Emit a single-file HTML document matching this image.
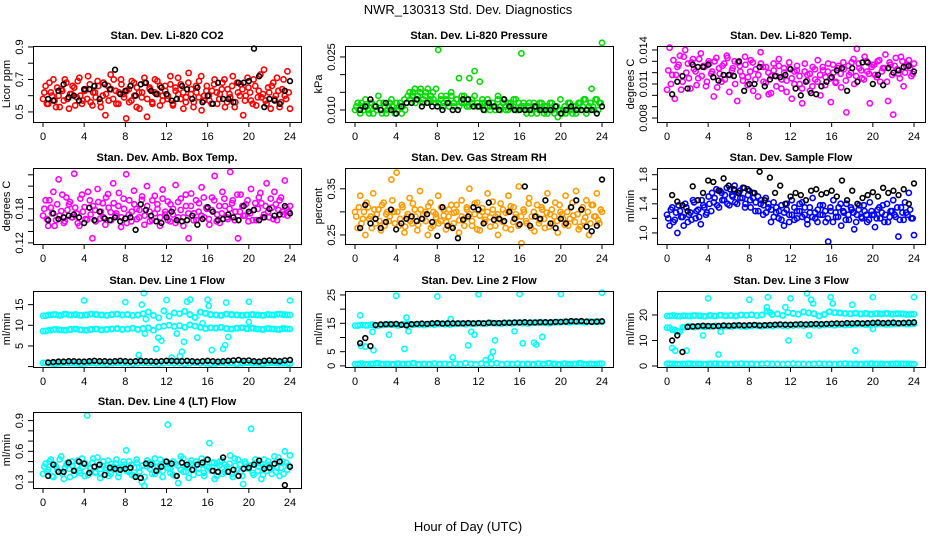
<!DOCTYPE html>
<html><head><meta charset="utf-8"><title>NWR_130313 Std. Dev. Diagnostics</title>
<style>
html,body{margin:0;padding:0;background:#fff;}
svg{display:block;font-family:"Liberation Sans",Arial,sans-serif;}
.tk{font-size:11px;fill:#000;}
.ttl{font-size:11px;font-weight:bold;fill:#000;}
</style></head><body>
<svg id="chart" width="936" height="540" viewBox="0 0 936 540" xmlns="http://www.w3.org/2000/svg">
<text x="468" y="14" text-anchor="middle" style="font-size:13px">NWR_130313 Std. Dev. Diagnostics</text>
<text x="468" y="531" text-anchor="middle" style="font-size:13px">Hour of Day (UTC)</text>
</svg>
<script>
// ---- data (estimated) ----
const xTicks=[0,4,8,12,16,20,24];
const co2Red=[0.58,0.66,0.55,0.62,0.70,0.53,0.60,0.64,0.57,0.68,0.52,0.61,0.65,0.59,0.71,0.55,0.63,0.58,0.67,0.54,0.62,0.69,0.56,0.60,0.48,0.66,0.73,0.58,0.63,0.55,0.70,0.61,0.46,0.64,0.57,0.68,0.53,0.62,0.59,0.71,0.47,0.65,0.56,0.62,0.69,0.54,0.60,0.66,0.58,0.72,0.55,0.63,0.61,0.67,0.52,0.59,0.74,0.64,0.56,0.62,0.69,0.51,0.60,0.66,0.57,0.63,0.70,0.55,0.61,0.68,0.53,0.64,0.59,0.72,0.56,0.62,0.67,0.48,0.60,0.65,0.57,0.70,0.54,0.63,0.59,0.76,0.55,0.62,0.66,0.58,0.71,0.53,0.64,0.60,0.75,0.52];
const co2RedB=[0.62,0.55,0.68,0.60,0.57,0.65,0.53,0.63,0.70,0.58,0.61,0.66,0.54,0.69,0.60,0.57,0.64,0.72,0.56,0.62,0.59,0.66,0.53,0.68,0.61,0.57,0.64,0.70,0.55,0.62,0.67,0.59,0.63,0.56,0.69,0.60,0.65,0.52,0.62,0.68,0.58,0.64,0.55,0.70,0.61,0.66,0.57,0.63,0.60,0.67,0.54,0.65,0.71,0.58,0.62,0.56,0.68,0.61,0.53,0.66,0.59,0.72,0.57,0.63,0.60,0.55,0.67,0.62,0.58,0.64,0.70,0.56,0.61,0.66,0.53,0.68,0.60,0.64,0.57,0.71,0.62,0.55,0.66,0.59,0.73,0.61,0.57,0.65,0.52,0.68,0.60,0.63,0.56,0.70,0.58,0.62];
const co2Black=[0.58,0.57,0.63,0.67,0.59,0.60,0.57,0.64,0.64,0.66,0.58,0.67,0.64,0.76,0.61,0.63,0.66,0.60,0.67,0.68,0.63,0.61,0.65,0.61,0.57,0.58,0.66,0.64,0.58,0.65,0.56,0.60,0.55,0.68,0.58,0.58,0.56,0.68,0.68,0.69,0.89,0.72,0.53,0.58,0.57,0.55,0.63,0.69];
const presGreen=[0.010,0.012,0.009,0.011,0.013,0.010,0.012,0.009,0.011,0.014,0.010,0.012,0.009,0.011,0.013,0.010,0.012,0.011,0.009,0.013,0.012,0.015,0.014,0.016,0.013,0.015,0.012,0.014,0.016,0.013,0.015,0.012,0.027,0.013,0.011,0.014,0.012,0.015,0.011,0.013,0.019,0.012,0.014,0.011,0.019,0.013,0.021,0.011,0.018,0.012,0.010,0.013,0.011,0.012,0.010,0.014,0.011,0.013,0.010,0.012,0.011,0.013,0.010,0.012,0.026,0.011,0.009,0.012,0.010,0.011,0.009,0.012,0.010,0.011,0.009,0.012,0.010,0.011,0.008,0.013,0.010,0.009,0.012,0.010,0.011,0.009,0.012,0.010,0.013,0.009,0.011,0.016,0.010,0.013,0.012,0.029];
const presGreenB=[0.011,0.010,0.012,0.010,0.011,0.009,0.012,0.011,0.010,0.012,0.009,0.011,0.010,0.012,0.011,0.009,0.010,0.012,0.011,0.010,0.014,0.013,0.015,0.012,0.014,0.016,0.013,0.015,0.012,0.014,0.013,0.016,0.012,0.014,0.012,0.013,0.011,0.014,0.012,0.013,0.011,0.014,0.012,0.013,0.011,0.012,0.014,0.012,0.011,0.013,0.012,0.011,0.010,0.012,0.011,0.013,0.010,0.012,0.011,0.010,0.012,0.011,0.013,0.010,0.011,0.012,0.010,0.011,0.009,0.012,0.011,0.010,0.012,0.009,0.011,0.010,0.012,0.009,0.011,0.010,0.009,0.011,0.010,0.012,0.009,0.011,0.010,0.012,0.011,0.013,0.010,0.012,0.011,0.013,0.010,0.012];
const presBlack=[0.010,0.011,0.013,0.011,0.010,0.012,0.010,0.009,0.011,0.012,0.012,0.013,0.011,0.012,0.011,0.011,0.010,0.012,0.010,0.010,0.013,0.013,0.011,0.011,0.010,0.012,0.011,0.010,0.013,0.011,0.010,0.010,0.010,0.010,0.011,0.010,0.010,0.010,0.011,0.009,0.010,0.011,0.010,0.010,0.010,0.010,0.009,0.011];
const tempMag=[0.0105,0.0142,0.0118,0.0097,0.0125,0.0135,0.0112,0.0140,0.0128,0.0106,0.0132,0.0121,0.0115,0.0137,0.0126,0.0108,0.0130,0.0119,0.0099,0.0133,0.0124,0.0112,0.0128,0.0135,0.0103,0.0122,0.0130,0.0095,0.0126,0.0117,0.0134,0.0109,0.0121,0.0129,0.0114,0.0099,0.0138,0.0125,0.0111,0.0120,0.0102,0.0128,0.0117,0.0132,0.0106,0.0124,0.0113,0.0129,0.0097,0.0121,0.0126,0.0110,0.0093,0.0128,0.0118,0.0104,0.0125,0.0114,0.0131,0.0100,0.0122,0.0116,0.0128,0.0094,0.0120,0.0112,0.0126,0.0107,0.0123,0.0085,0.0118,0.0129,0.0110,0.0141,0.0124,0.0115,0.0134,0.0121,0.0093,0.0127,0.0118,0.0130,0.0112,0.0124,0.0136,0.0095,0.0127,0.0083,0.0133,0.0119,0.0134,0.0108,0.0126,0.0131,0.0117,0.0128];
const tempMagB=[0.0122,0.0110,0.0131,0.0118,0.0127,0.0105,0.0134,0.0120,0.0115,0.0129,0.0123,0.0109,0.0132,0.0117,0.0125,0.0112,0.0128,0.0121,0.0130,0.0107,0.0119,0.0126,0.0114,0.0133,0.0118,0.0124,0.0110,0.0129,0.0121,0.0113,0.0127,0.0116,0.0131,0.0104,0.0123,0.0118,0.0128,0.0112,0.0125,0.0101,0.0117,0.0122,0.0108,0.0126,0.0114,0.0120,0.0103,0.0124,0.0115,0.0110,0.0122,0.0117,0.0106,0.0121,0.0113,0.0119,0.0108,0.0123,0.0112,0.0118,0.0125,0.0109,0.0121,0.0115,0.0127,0.0111,0.0124,0.0119,0.0129,0.0113,0.0126,0.0120,0.0132,0.0117,0.0128,0.0122,0.0114,0.0130,0.0119,0.0125,0.0127,0.0116,0.0131,0.0121,0.0124,0.0112,0.0129,0.0118,0.0126,0.0123,0.0115,0.0130,0.0120,0.0127,0.0124,0.0119];
const tempBlack=[0.0101,0.0112,0.0117,0.0106,0.0127,0.0125,0.0125,0.0127,0.0116,0.0113,0.0118,0.0118,0.0117,0.0130,0.0104,0.0110,0.0110,0.0125,0.0108,0.0114,0.0117,0.0116,0.0118,0.0123,0.0106,0.0100,0.0112,0.0102,0.0101,0.0108,0.0112,0.0116,0.0122,0.0124,0.0104,0.0124,0.0112,0.0129,0.0129,0.0110,0.0118,0.0109,0.0124,0.0120,0.0122,0.0125,0.0126,0.0121];
const ambMag=[0.168,0.195,0.150,0.182,0.210,0.160,0.232,0.176,0.155,0.200,0.188,0.165,0.242,0.172,0.150,0.205,0.183,0.161,0.195,0.128,0.178,0.215,0.163,0.190,0.152,0.206,0.174,0.225,0.168,0.185,0.148,0.198,0.241,0.170,0.158,0.212,0.180,0.165,0.196,0.152,0.220,0.175,0.160,0.203,0.188,0.150,0.214,0.170,0.193,0.158,0.180,0.222,0.165,0.198,0.150,0.185,0.128,0.207,0.172,0.160,0.190,0.218,0.165,0.180,0.152,0.200,0.238,0.170,0.155,0.210,0.185,0.162,0.245,0.195,0.175,0.128,0.205,0.168,0.188,0.158,0.215,0.178,0.160,0.200,0.190,0.170,0.225,0.165,0.182,0.210,0.160,0.195,0.175,0.230,0.168,0.185];
const ambMagB=[0.180,0.162,0.195,0.172,0.150,0.188,0.168,0.205,0.158,0.178,0.192,0.165,0.182,0.155,0.198,0.175,0.162,0.210,0.170,0.185,0.158,0.192,0.175,0.165,0.200,0.182,0.160,0.190,0.172,0.208,0.165,0.180,0.155,0.195,0.175,0.188,0.162,0.178,0.202,0.168,0.185,0.158,0.195,0.172,0.180,0.165,0.198,0.175,0.160,0.188,0.170,0.155,0.192,0.178,0.165,0.205,0.172,0.185,0.160,0.195,0.175,0.168,0.200,0.182,0.162,0.178,0.195,0.158,0.185,0.172,0.198,0.165,0.180,0.190,0.160,0.205,0.175,0.185,0.168,0.195,0.172,0.160,0.190,0.180,0.208,0.165,0.185,0.175,0.198,0.162,0.188,0.178,0.200,0.170,0.182,0.175];
const ambBlack=[0.160,0.172,0.162,0.165,0.168,0.170,0.165,0.155,0.182,0.160,0.175,0.163,0.160,0.165,0.158,0.163,0.165,0.143,0.188,0.178,0.168,0.158,0.155,0.165,0.175,0.160,0.158,0.160,0.168,0.152,0.162,0.183,0.175,0.160,0.162,0.170,0.165,0.160,0.185,0.175,0.178,0.160,0.165,0.180,0.168,0.170,0.185,0.172];
const rhOrange=[0.300,0.265,0.335,0.285,0.250,0.310,0.290,0.340,0.275,0.305,0.260,0.320,0.295,0.280,0.370,0.300,0.385,0.270,0.315,0.255,0.290,0.330,0.275,0.305,0.260,0.345,0.285,0.300,0.250,0.320,0.270,0.295,0.335,0.280,0.305,0.262,0.290,0.315,0.275,0.300,0.255,0.325,0.285,0.310,0.350,0.270,0.295,0.320,0.260,0.300,0.283,0.340,0.268,0.305,0.290,0.250,0.318,0.278,0.298,0.335,0.262,0.310,0.288,0.355,0.232,0.300,0.275,0.330,0.290,0.258,0.315,0.282,0.305,0.265,0.340,0.295,0.275,0.320,0.255,0.300,0.285,0.335,0.270,0.310,0.292,0.345,0.262,0.305,0.280,0.325,0.250,0.315,0.290,0.340,0.275,0.300];
const rhOrangeB=[0.290,0.310,0.275,0.300,0.320,0.285,0.265,0.305,0.295,0.280,0.315,0.270,0.300,0.290,0.325,0.275,0.300,0.285,0.310,0.268,0.295,0.280,0.318,0.290,0.272,0.305,0.295,0.280,0.312,0.265,0.300,0.288,0.275,0.310,0.292,0.278,0.305,0.268,0.298,0.315,0.282,0.290,0.270,0.305,0.295,0.280,0.318,0.262,0.292,0.308,0.278,0.300,0.288,0.322,0.270,0.295,0.283,0.305,0.265,0.300,0.312,0.278,0.295,0.270,0.290,0.305,0.280,0.318,0.265,0.300,0.290,0.275,0.310,0.285,0.298,0.268,0.305,0.290,0.280,0.315,0.295,0.272,0.300,0.285,0.320,0.278,0.295,0.268,0.310,0.288,0.300,0.275,0.315,0.290,0.282,0.305];
const rhBlack=[0.265,0.315,0.275,0.285,0.265,0.278,0.305,0.262,0.275,0.285,0.290,0.280,0.285,0.295,0.278,0.248,0.310,0.270,0.265,0.243,0.283,0.290,0.310,0.305,0.275,0.320,0.283,0.285,0.280,0.300,0.285,0.273,0.355,0.270,0.290,0.285,0.325,0.275,0.265,0.285,0.275,0.310,0.325,0.305,0.268,0.258,0.270,0.370];
const flowBlue=[1.25,1.10,1.35,1.18,1.00,1.30,1.22,1.40,1.15,1.28,1.45,1.20,1.32,1.12,1.38,1.25,1.50,1.30,1.42,1.60,1.35,1.55,1.45,1.62,1.38,1.52,1.65,1.40,1.58,1.48,1.35,1.60,1.45,1.55,1.30,1.50,1.40,1.25,1.48,1.35,1.15,1.42,1.28,1.20,1.38,1.10,1.32,1.25,1.45,1.18,1.30,1.40,1.22,1.35,1.12,1.28,1.48,1.20,1.32,1.25,1.38,1.15,0.88,1.30,1.45,1.22,1.35,1.10,1.28,1.40,1.18,1.32,1.05,1.25,1.38,1.20,1.30,1.15,1.42,1.25,1.08,1.32,1.20,1.38,1.25,1.15,1.30,1.45,1.22,0.95,1.35,1.18,1.28,1.55,1.20,0.97];
const flowBlueB=[1.20,1.32,1.15,1.28,1.38,1.22,1.10,1.35,1.25,1.18,1.42,1.30,1.22,1.45,1.35,1.28,1.40,1.55,1.48,1.38,1.58,1.45,1.52,1.40,1.60,1.50,1.42,1.55,1.48,1.62,1.40,1.52,1.35,1.48,1.42,1.30,1.45,1.38,1.28,1.40,1.32,1.22,1.35,1.30,1.18,1.28,1.40,1.15,1.25,1.35,1.20,1.30,1.42,1.25,1.18,1.35,1.22,1.28,1.15,1.38,1.25,1.30,1.20,1.35,1.15,1.28,1.22,1.40,1.30,1.18,1.25,1.35,1.28,1.15,1.32,1.22,1.38,1.25,1.18,1.30,1.25,1.20,1.35,1.28,1.15,1.40,1.22,1.30,1.25,1.35,1.18,1.28,1.42,1.25,1.32,1.20];
const flowBlack=[1.52,1.43,1.38,1.30,1.64,1.45,1.55,1.72,1.70,1.58,1.75,1.65,1.60,1.55,1.62,1.58,1.55,1.84,1.45,1.76,1.55,1.65,1.40,1.50,1.55,1.52,1.45,1.58,1.60,1.53,1.55,1.58,1.50,1.72,1.45,1.58,1.40,1.48,1.52,1.56,1.50,1.62,1.55,1.58,1.52,1.60,1.40,1.68];
const l1Upper=[12.3,12.5,12.6,12.4,12.7,12.5,12.6,12.4,12.5,12.7,12.6,12.5,12.4,12.6,12.7,12.5,12.6,12.4,12.5,12.8,13.2,12.4,11.8,13.5,12.2,13.0,12.8,13.4,12.6,11.9,13.2,12.9,12.6,12.5,12.4,12.7,12.6,12.5,12.4,12.5,12.6,12.5,12.4,12.6,12.5,12.7,12.6,12.5];
const l1Mid=[8.6,8.8,9.0,8.9,8.8,9.0,9.1,8.9,8.8,9.0,9.1,8.9,9.0,9.1,9.2,9.0,9.1,9.3,9.0,9.2,9.4,8.8,9.6,9.8,10.0,9.7,9.9,9.5,10.1,9.8,9.5,9.2,9.4,9.3,9.5,9.2,9.1,9.3,9.4,9.2,9.3,9.1,9.0,9.2,9.1,9.0,9.2,9.1];
const l1Low=[0.9,0.8,0.7,0.8,0.9,0.8,0.8,0.7,0.8,0.9,0.8,0.8,0.7,0.8,0.9,0.8,0.8,0.7,0.8,0.9,0.8,0.8,0.7,0.8,0.9,0.8,0.8,0.7,0.8,0.9,0.8,0.8,0.7,0.8,0.9,0.8,0.8,0.7,0.8,0.9,0.8,0.8,0.7,0.8,0.9,0.8,0.8,0.7];
const l1OutHours=[4,8,9.3,9.6,9.8,9.9,10,11,11.2,11.5,12,12.5,13,13.3,13.5,13.7,14,14.3,15,15.5,16,16.1,16.4,17.5,17.7,18,17.8,20,20,24];
const l1OutVals=[16,15.6,2.8,15,17.8,8,11.5,4.3,7,6.3,16.1,2.2,8,2.5,3.6,6,15.7,16.2,7,10.5,16.2,14.7,4,4.3,5.2,7.2,15.5,15.7,10.8,16];
const l1Black=[1.0,1.1,1.2,1.2,1.3,1.3,1.2,1.2,1.3,1.4,1.3,1.3,1.2,1.3,1.4,1.3,1.2,1.3,1.4,1.3,1.3,1.2,1.3,1.4,1.4,1.3,1.3,1.4,1.3,1.2,1.3,1.4,1.3,1.2,1.3,1.4,1.5,1.6,1.4,1.5,1.3,1.2,1.4,1.5,1.4,1.3,1.5,1.6];
const l2Band=[14.2,14.4,14.3,14.5,14.2,14.4,14.6,14.5,14.3,14.6,14.7,14.5,14.6,14.4,14.7,14.6,14.8,14.7,14.6,14.8,14.9,14.7,14.9,14.8,15.0,14.9,15.1,15.0,14.9,15.1,15.0,15.2,15.1,15.0,15.2,15.3,15.2,15.1,15.3,15.4,15.5,15.4,15.6,15.5,15.4,15.6,15.5,15.6];
const l2Low=[0.6,0.8,0.5,0.7,0.9,0.6,0.7,0.5,0.8,0.6,0.7,0.9,0.5,0.7,0.6,0.8,0.6,0.7,0.5,0.8,0.6,0.9,0.7,0.5,0.8,0.6,0.7,0.9,0.5,0.7,0.6,0.8,0.6,0.7,0.5,0.8,0.6,0.9,0.7,0.5,0.8,0.6,0.7,0.9,0.5,0.7,0.6,0.8];
const l2OutHours=[0.5,0.6,1,1.7,1.8,3.3,4,4.8,5,5.2,8,9.3,9.5,11,11.3,11.6,12,12.7,13.2,13.4,13.6,15.5,16,16.3,17.4,17.6,18.2,20,24];
const l2OutVals=[17.8,7,6.8,12,5.5,11,24.7,6,17,12.2,24.5,16.5,3,7.2,12,11,25.2,2,3,5,9,12.2,25.3,8,8.2,7.5,10.2,25.3,25.8];
const l2Black=[8.0,9.8,7.0,14.4,14.6,14.7,14.7,14.8,14.5,14.3,14.7,14.8,14.9,14.8,15.0,15.1,14.9,15.0,15.0,15.0,15.0,15.1,15.0,15.1,15.0,15.2,15.1,15.1,15.2,15.2,15.3,15.3,15.4,15.3,15.3,15.4,15.4,15.4,15.5,15.5,15.6,15.8,15.7,15.8,15.6,15.5,15.6,15.7];
const l3Upper=[19.6,19.8,19.5,19.7,19.6,19.8,19.7,19.5,19.8,19.6,19.9,19.7,19.8,19.6,20.0,19.9,20.1,19.8,20.0,21.5,20.2,20.4,19.8,21.0,20.6,20.3,21.2,20.8,20.5,19.6,20.2,21.3,20.9,20.8,20.6,20.5,20.7,20.4,20.6,20.3,20.5,20.4,20.6,20.3,20.5,20.4,20.2,20.3];
const l3Mid=[15.0,14.2,13.5,15.2,15.5,15.3,15.6,15.4,15.5,15.7,15.4,15.6,15.5,15.8,15.6,15.5,15.7,15.9,15.6,15.8,15.7,16.0,15.8,15.7,15.9,16.0,15.8,16.1,16.0,15.9,16.1,16.2,16.0,16.3,16.1,16.2,16.3,16.4,16.2,16.3,16.4,16.5,16.3,16.4,16.5,16.6,16.4,16.5];
const l3Low=[0.9,0.8,0.7,0.8,0.9,0.8,0.8,0.7,0.8,0.9,0.8,0.8,0.7,0.8,0.9,0.8,0.8,0.7,0.8,0.9,0.8,0.8,0.7,0.8,0.9,0.8,0.8,0.7,0.8,0.9,0.8,0.8,0.7,0.8,0.9,0.8,0.8,0.7,0.8,0.9,0.8,0.8,0.7,0.8,0.9,0.8,0.8,0.7];
const l3OutHours=[0.5,0.8,1,1.9,3.5,4,5,5.2,8,9.8,9.7,10,11.5,11.8,12,13.6,13.8,14,14.2,15.9,16.1,18,18.3,20,20,24];
const l3OutVals=[7,6,13.5,6,12,26.5,4.5,13.5,26,27,23,21,23,10,26.5,28.5,12,26,24.5,27,24.5,24,6,27,14.5,27];
const l3Black=[10.0,12.0,5.5,15.3,15.5,15.6,15.8,15.7,15.6,15.7,15.9,15.8,15.9,16.0,15.9,16.0,16.1,15.9,16.0,16.1,16.2,16.3,16.2,16.2,16.3,16.4,16.3,16.4,16.5,16.4,16.5,16.6,16.7,16.6,16.8,16.7,16.8,16.7,16.8,16.9,17.0,16.8,16.9,17.0,16.8,16.9,17.0,17.1];
const l4Cyan=[0.38,0.48,0.42,0.52,0.35,0.45,0.40,0.55,0.33,0.47,0.43,0.50,0.37,0.46,0.41,0.53,0.36,0.95,0.44,0.49,0.39,0.54,0.34,0.46,0.42,0.51,0.38,0.45,0.48,0.35,0.43,0.50,0.61,0.40,0.47,0.36,0.52,0.44,0.30,0.26,0.45,0.49,0.38,0.53,0.41,0.46,0.35,0.50,0.86,0.43,0.37,0.48,0.29,0.55,0.40,0.46,0.34,0.51,0.42,0.47,0.39,0.53,0.36,0.45,0.68,0.49,0.33,0.44,0.50,0.38,0.47,0.41,0.56,0.35,0.46,0.52,0.40,0.28,0.48,0.43,0.82,0.37,0.49,0.45,0.33,0.52,0.41,0.47,0.38,0.55,0.44,0.36,0.50,0.60,0.42,0.56];
const l4CyanB=[0.45,0.40,0.50,0.36,0.47,0.42,0.52,0.38,0.44,0.49,0.35,0.46,0.41,0.51,0.39,0.45,0.48,0.37,0.43,0.53,0.40,0.46,0.38,0.50,0.44,0.36,0.48,0.42,0.52,0.39,0.45,0.47,0.41,0.50,0.37,0.44,0.49,0.40,0.46,0.35,0.51,0.43,0.48,0.38,0.45,0.52,0.41,0.47,0.44,0.39,0.50,0.36,0.46,0.42,0.53,0.40,0.45,0.48,0.37,0.50,0.43,0.47,0.39,0.52,0.44,0.41,0.49,0.36,0.46,0.51,0.40,0.45,0.48,0.38,0.53,0.42,0.47,0.36,0.50,0.44,0.46,0.39,0.52,0.41,0.48,0.37,0.45,0.50,0.43,0.47,0.40,0.54,0.44,0.38,0.49,0.46];
const l4Black=[0.36,0.47,0.40,0.40,0.49,0.41,0.50,0.48,0.39,0.45,0.47,0.37,0.44,0.43,0.42,0.43,0.44,0.35,0.34,0.48,0.47,0.41,0.45,0.50,0.48,0.36,0.49,0.47,0.42,0.47,0.49,0.52,0.41,0.40,0.54,0.40,0.42,0.36,0.43,0.44,0.47,0.51,0.43,0.44,0.48,0.50,0.27,0.45];

const NS='http://www.w3.org/2000/svg';
const svg=document.getElementById('chart');
function mk(tag,attrs,parent){const e=document.createElementNS(NS,tag);for(const k in attrs)e.setAttribute(k,attrs[k]);(parent||svg).appendChild(e);return e;}

const panels=[
 {id:'co2',col:0,row:0,title:'Stan. Dev. Li-820 CO2',ylab:'Licor ppm',yr:[0.438,0.906],ticks:[0.5,0.6,0.7,0.8,0.9],labels:['0.5','','0.7','','0.9']},
 {id:'pressure',col:1,row:0,title:'Stan. Dev. Li-820 Pressure',ylab:'kPa',yr:[0.0066,0.0281],ticks:[0.010,0.015,0.020,0.025],labels:['0.010','','','0.025']},
 {id:'temp',col:2,row:0,title:'Stan. Dev. Li-820 Temp.',ylab:'degrees C',yr:[0.00765,0.01435],ticks:[0.008,0.009,0.010,0.011,0.012,0.013,0.014],labels:['0.008','','','0.011','','','0.014']},
 {id:'ambtemp',col:0,row:1,title:'Stan. Dev. Amb. Box Temp.',ylab:'degrees C',yr:[0.118,0.252],ticks:[0.12,0.14,0.16,0.18,0.20,0.22,0.24],labels:['0.12','','','0.18','','','']},
 {id:'rh',col:1,row:1,title:'Stan. Dev. Gas Stream RH',ylab:'percent',yr:[0.2304,0.395],ticks:[0.25,0.30,0.35],labels:['0.25','','0.35']},
 {id:'sampleflow',col:2,row:1,title:'Stan. Dev. Sample Flow',ylab:'ml/min',yr:[0.848,1.892],ticks:[1.0,1.2,1.4,1.6,1.8],labels:['1.0','','1.4','','1.8']},
 {id:'line1',col:0,row:2,title:'Stan. Dev. Line 1 Flow',ylab:'ml/min',yr:[-0.1,18.3],ticks:[0,5,10,15],labels:['','5','10','15']},
 {id:'line2',col:1,row:2,title:'Stan. Dev. Line 2 Flow',ylab:'ml/min',yr:[-0.4,26.4],ticks:[0,5,10,15,20,25],labels:['0','5','','15','','25']},
 {id:'line3',col:2,row:2,title:'Stan. Dev. Line 3 Flow',ylab:'ml/min',yr:[-0.4,29.4],ticks:[0,10,20],labels:['0','10','20']},
 {id:'line4',col:0,row:3,title:'Stan. Dev. Line 4 (LT) Flow',ylab:'ml/min',yr:[0.242,0.984],ticks:[0.3,0.4,0.5,0.6,0.7,0.8,0.9],labels:['0.3','','','0.6','','','0.9']}
];
const colLeft=[33,345,657], rowTop=[46,168,291,412], BW=268, BH=76;

function axes(p){
  const L=colLeft[p.col],T=rowTop[p.row];
  const g=mk('g',{});
  
  
  p.g=g;
  p.x=h=>L+10+h/24*247;
  p.y=v=>T+BH-(v-p.yr[0])/(p.yr[1]-p.yr[0])*BH;
  const t=mk('text',{x:L+BW/2,y:T-7,'text-anchor':'middle',class:'ttl'},g);t.textContent=p.title;
  
  
  xTicks.forEach(h=>{
    mk('line',{x1:p.x(h),x2:p.x(h),y1:T+BH,y2:T+BH+5,stroke:'#000','stroke-width':1},g);
    const l=mk('text',{x:p.x(h),y:T+BH+18,'text-anchor':'middle',class:'tk'},g);l.textContent=h;
    
    
  });
  p.ticks.forEach((v,i)=>{
    const yy=p.y(v);
    mk('line',{x1:L-5,x2:L,y1:yy,y2:yy,stroke:'#000','stroke-width':1},g);
    if(p.labels[i]){
      const l=mk('text',{x:0,y:0,'text-anchor':'middle',class:'tk',transform:`translate(${L-10},${yy}) rotate(-90)`},g);l.textContent=p.labels[i];
      
      
    }
  });
  const yl=mk('text',{x:0,y:0,'text-anchor':'middle',class:'tk',transform:`translate(${L-23},${T+BH/2}) rotate(-90)`},g);yl.textContent=p.ylab;
  
  
}
function box(p){
  const L=colLeft[p.col],T=rowTop[p.row];
  const r=mk('rect',{x:L+0.5,y:T+0.5,width:BW,height:BH,fill:'none',stroke:'#000','stroke-width':1},p.g);
  
  
}
// mode: 'black' = half-hour averages, 'a' = samples on grid, 'b' = samples offset half step
function series(p,vals,color,name,hours,mode){
  const n=vals.length;
  vals.forEach((v,i)=>{
    let h;
    if(hours) h=hours[i];
    else if(color==='#000') h=(i+1)*24/n;
    else if(mode==='b') h=(i+0.5)*24/n;
    else h=i*24/(n-1);
    const c=mk('circle',{cx:p.x(h),cy:p.y(v),r:color==='#000'?2.4:2.6,fill:'none',stroke:color,'stroke-width':1.6},p.g);
    
    
  });
}
panels.forEach(axes);
const P={};panels.forEach(p=>P[p.id]=p);
const CY='#00ffff';
series(P.co2,co2Red,'#ff0000','co2');series(P.co2,co2RedB,'#ff0000','co2',null,'b');series(P.co2,co2Black,'#000','co2-hourly');
series(P.pressure,presGreen,'#00dd00','pressure');series(P.pressure,presGreenB,'#00dd00','pressure',null,'b');series(P.pressure,presBlack,'#000','pressure-hourly');
series(P.temp,tempMag,'#ff00ff','temp');series(P.temp,tempMagB,'#ff00ff','temp',null,'b');series(P.temp,tempBlack,'#000','temp-hourly');
series(P.ambtemp,ambMag,'#ff00ff','ambtemp');series(P.ambtemp,ambMagB,'#ff00ff','ambtemp',null,'b');series(P.ambtemp,ambBlack,'#000','ambtemp-hourly');
series(P.rh,rhOrange,'#ff9a00','rh');series(P.rh,rhOrangeB,'#ff9a00','rh',null,'b');series(P.rh,rhBlack,'#000','rh-hourly');
series(P.sampleflow,flowBlue,'#0000ff','sampleflow');series(P.sampleflow,flowBlueB,'#0000ff','sampleflow',null,'b');series(P.sampleflow,flowBlack,'#000','sampleflow-hourly');
series(P.line1,l1Upper,CY,'line1-upper');series(P.line1,l1Upper,CY,'line1-upper',null,'b');
series(P.line1,l1Mid,CY,'line1-mid');series(P.line1,l1Mid,CY,'line1-mid',null,'b');
series(P.line1,l1Low,CY,'line1-low');series(P.line1,l1Low,CY,'line1-low',null,'b');
series(P.line1,l1OutVals,CY,'line1-outlier',l1OutHours);series(P.line1,l1Black,'#000','line1-hourly');
series(P.line2,l2Band,CY,'line2-band');series(P.line2,l2Band,CY,'line2-band',null,'b');
series(P.line2,l2Low,CY,'line2-low');series(P.line2,l2Low,CY,'line2-low',null,'b');
series(P.line2,l2OutVals,CY,'line2-outlier',l2OutHours);series(P.line2,l2Black,'#000','line2-hourly');
series(P.line3,l3Upper,CY,'line3-upper');series(P.line3,l3Upper,CY,'line3-upper',null,'b');
series(P.line3,l3Mid,CY,'line3-mid');series(P.line3,l3Mid,CY,'line3-mid',null,'b');
series(P.line3,l3Low,CY,'line3-low');series(P.line3,l3Low,CY,'line3-low',null,'b');
series(P.line3,l3OutVals,CY,'line3-outlier',l3OutHours);series(P.line3,l3Black,'#000','line3-hourly');
series(P.line4,l4Cyan,CY,'line4');series(P.line4,l4CyanB,CY,'line4',null,'b');series(P.line4,l4Black,'#000','line4-hourly');
panels.forEach(box);
</script>
</body></html>
